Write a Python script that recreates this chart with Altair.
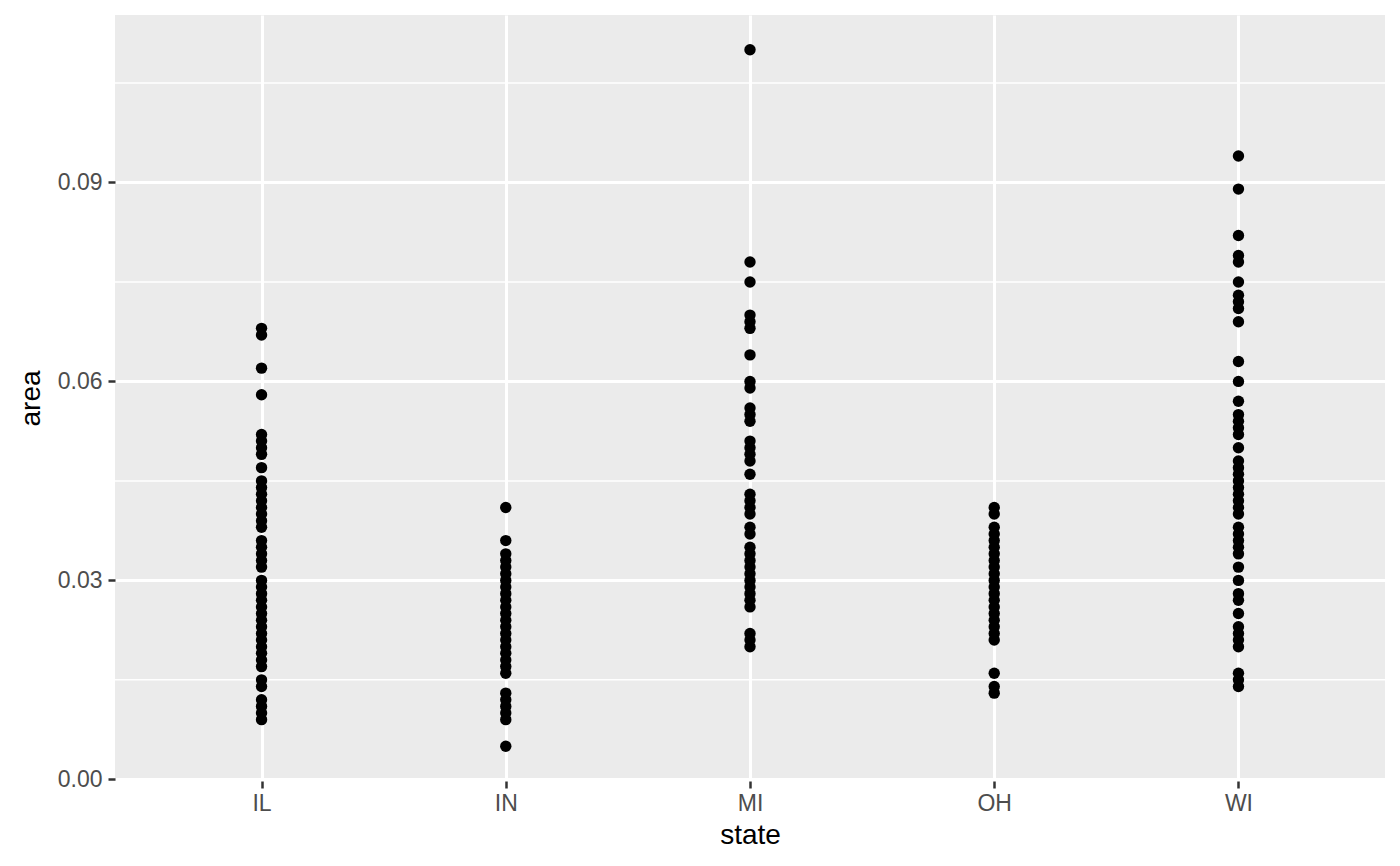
import altair as alt
import pandas as pd

states = ["IL", "IN", "MI", "OH", "WI"]

il_area = [0.068, 0.067, 0.062, 0.058, 0.052, 0.051, 0.050, 0.049, 0.047, 0.045,
           0.044, 0.043, 0.042, 0.041, 0.040, 0.039, 0.038, 0.036, 0.035, 0.034,
           0.033, 0.032, 0.030, 0.029, 0.028, 0.027, 0.026, 0.025, 0.024, 0.023,
           0.022, 0.021, 0.020, 0.019, 0.018, 0.017, 0.015, 0.014, 0.012, 0.011,
           0.010, 0.009]
in_area = [0.041, 0.036, 0.034, 0.033, 0.032, 0.031, 0.030, 0.029, 0.028, 0.027,
           0.026, 0.025, 0.024, 0.023, 0.022, 0.021, 0.020, 0.019, 0.018, 0.017,
           0.016, 0.013, 0.012, 0.011, 0.010, 0.009, 0.005]
mi_area = [0.110, 0.078, 0.075, 0.070, 0.069, 0.068, 0.064, 0.060, 0.059, 0.056,
           0.055, 0.054, 0.051, 0.050, 0.049, 0.048, 0.046, 0.043, 0.042, 0.041,
           0.040, 0.038, 0.037, 0.035, 0.034, 0.033, 0.032, 0.031, 0.030, 0.029,
           0.028, 0.027, 0.026, 0.022, 0.021, 0.020]
oh_area = [0.041, 0.040, 0.038, 0.037, 0.036, 0.035, 0.034, 0.033, 0.032, 0.031,
           0.030, 0.029, 0.028, 0.027, 0.026, 0.025, 0.024, 0.023, 0.022, 0.021,
           0.016, 0.014, 0.013]
wi_area = [0.094, 0.089, 0.082, 0.079, 0.078, 0.075, 0.073, 0.072, 0.071, 0.069,
           0.063, 0.060, 0.057, 0.055, 0.054, 0.053, 0.052, 0.050, 0.048, 0.047,
           0.046, 0.045, 0.044, 0.043, 0.042, 0.041, 0.040, 0.038, 0.037, 0.036,
           0.035, 0.034, 0.032, 0.030, 0.028, 0.027, 0.025, 0.023, 0.022, 0.021,
           0.020, 0.016, 0.015, 0.014]

y_ticks = [0.0, 0.03, 0.06, 0.09]
y_minor = [0.015, 0.045, 0.075, 0.105]
y_domain = [-0.00025, 0.11525]

rows = []
for s, vals in zip(states, [il_area, in_area, mi_area, oh_area, wi_area]):
    for v in vals:
        rows.append({"state": s, "area": v})
df = pd.DataFrame(rows)
minor_df = pd.DataFrame({"area": y_minor})

FONT = "Liberation Sans"
yscale = alt.Scale(domain=y_domain, nice=False, zero=False)

minor = alt.Chart(minor_df).mark_rule(color="white", strokeWidth=1.5).encode(
    y=alt.Y("area:Q", scale=yscale)
)

points = alt.Chart(df).mark_circle(size=130, color="black", opacity=1).encode(
    x=alt.X(
        "state:N",
        sort=states,
        scale=alt.Scale(type="point", padding=0.6),
        axis=alt.Axis(
            title="state", labelAngle=0, domain=False, grid=True,
            gridColor="white", gridWidth=3,
            tickColor="#333333", tickSize=7, tickWidth=2.5,
            labelFont=FONT, labelFontSize=23, labelColor="#4D4D4D", labelPadding=4,
            titleFont=FONT, titleFontSize=28, titleColor="black",
            titleFontWeight="normal", titlePadding=6,
        ),
    ),
    y=alt.Y(
        "area:Q",
        scale=yscale,
        axis=alt.Axis(
            title="area", values=y_ticks, format=".2f", domain=False, grid=True,
            gridColor="white", gridWidth=3,
            tickColor="#333333", tickSize=7, tickWidth=2.5,
            labelFont=FONT, labelFontSize=23, labelColor="#4D4D4D", labelPadding=6,
            titleFont=FONT, titleFontSize=28, titleColor="black",
            titleFontWeight="normal", titlePadding=12,
        ),
    ),
)

chart = alt.layer(minor, points).properties(
    width=1270,
    height=766,
    autosize=alt.AutoSizeParams(type="none"),
    padding={"left": 107, "top": 7, "right": 7, "bottom": 70},
    background="white",
).configure_view(fill="#EBEBEB", stroke=None)

chart.save("out.html", embed_options={"renderer": "svg", "actions": False})
